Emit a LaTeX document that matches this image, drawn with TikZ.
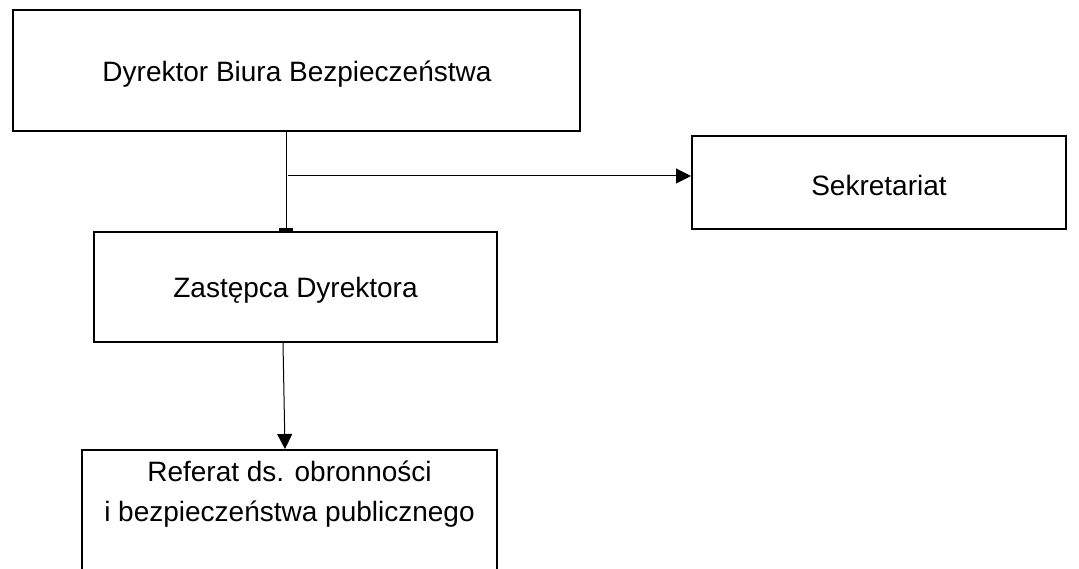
\documentclass[tikz,border=0pt]{standalone}
\usepackage{fontspec}
\setmainfont{Liberation Sans}
\usetikzlibrary{arrows.meta}
\begin{document}
\begin{tikzpicture}[x=1pt,y=-1pt,
  box/.style={draw=black,line width=2pt,rectangle,inner sep=0pt},
  lbl/.style={font=\fontsize{28}{40}\selectfont,inner sep=0pt},
  conn/.style={draw=black,line width=1pt},
  arr/.style={conn,-{Triangle[width=15pt,length=15pt]}}]
\useasboundingbox (0,0) rectangle (1079,569);
\clip (0,0) rectangle (1079,569);
\node[box,minimum width=567pt,minimum height=121pt] (d) at (296.5,70.5) {};
\node[lbl] (dt) at (297,74) {Dyrektor Biura Bezpieczeństwa};
\node[box,minimum width=374pt,minimum height=93pt] (s) at (879,182.5) {};
\node[lbl] (st) at (879,185) {Sekretariat};
\node[box,minimum width=403pt,minimum height=110pt] (z) at (295.5,287) {};
\node[lbl] (zt) at (295.5,290) {Zastępca Dyrektora};
\node[box,minimum width=415pt,minimum height=160pt] (r) at (289.5,530) {};
\node[lbl,align=center] (rt) at (289.5,494) {Referat ds. obronności\\i bezpieczeństwa publicznego};
\draw[conn,-{Bar[width=14pt,line width=3pt]}] ([xshift=-10.5pt]d.south) -- ([xshift=-9.5pt]z.north);
\coordinate (j) at (288,176);
\draw[arr] (j) -- (s.west |- j);
\draw[arr] ([xshift=-12.5pt]z.south) -- ([xshift=-4.5pt]r.north);
\end{tikzpicture}
\end{document}
